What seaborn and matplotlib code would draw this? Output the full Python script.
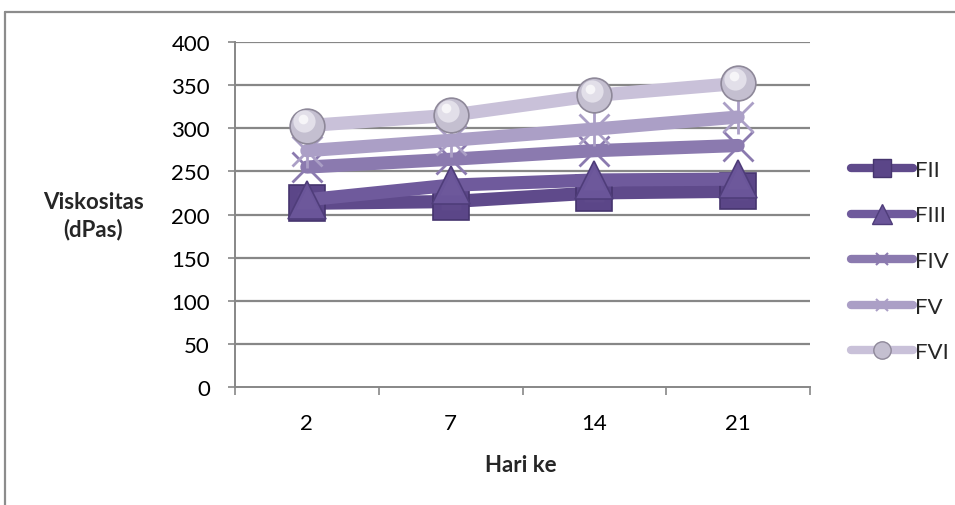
import numpy as np
import pandas as pd
import matplotlib
matplotlib.use("Agg")
import matplotlib.pyplot as plt
from matplotlib.lines import Line2D
import matplotlib.transforms as mtransforms
import seaborn as sns

# Viscosity (dPas) of each formula on each storage day
days = ["2", "7", "14", "21"]
fii = [213, 215, 225, 227]
fiii = [217, 234, 240, 241]
fiv = [255, 264, 274, 280]
fv = [274, 286, 299, 313]
fvi = [303, 315, 338, 352]

series_names = ["FII", "FIII", "FIV", "FV", "FVI"]
series_values = [fii, fiii, fiv, fv, fvi]
y_ticks = [0, 50, 100, 150, 200, 250, 300, 350, 400]

line_colors = ["#5f4a8b", "#6f5a9c", "#8b7aaf", "#ab9fc6", "#c9c1d9"]
marker_faces = ["#5b4688", "#6a5599", "#8b7aaf", "#ab9fc6", "#c4bfd0"]
marker_edges = ["#46356e", "#4f3d7a", "#8b7aaf", "#ab9fc6", "#8e8899"]
# FV uses an x with an extra vertical stroke (drawn as 'x' + '|')
markers = ["s", "^", "x", "x", "o"]
marker_sizes = [26, 28, 22, 22, 25]

FS = 16

sns.set_theme(style="white")
plt.rcParams["font.family"] = ["Lato", "DejaVu Sans"]

fig = plt.figure(figsize=(9.55, 5.06), dpi=100)
ax = fig.add_axes([235 / 955, 1 - 388 / 506, (810 - 235) / 955, (388 - 43) / 506])

pos = np.arange(len(days))
frames = []
for name, vals in zip(series_names, series_values):
    frames.append(pd.DataFrame({"pos": pos, "value": vals, "series": name}))
df = pd.concat(frames, ignore_index=True)

for i, name in enumerate(series_names):
    sub = df[df["series"] == name]
    sns.lineplot(data=sub, x="pos", y="value", ax=ax, color=line_colors[i],
                 linewidth=9.5, solid_capstyle="round", legend=False, zorder=3 + i)
    mk = markers[i]
    filled = mk in ("s", "^", "o")
    ax.plot(sub["pos"], sub["value"], linestyle="none", marker=mk,
            markersize=marker_sizes[i],
            markerfacecolor=marker_faces[i] if filled else "none",
            markeredgecolor=marker_edges[i],
            markeredgewidth=1.2 if filled else 2.0,
            zorder=3 + i + 0.5)
    if name == "FV":
        ax.plot(sub["pos"], sub["value"], linestyle="none", marker="|",
                markersize=marker_sizes[i] * 1.1, markeredgecolor=marker_edges[i],
                markeredgewidth=2.0, zorder=3 + i + 0.5)
    if name == "FVI":
        # soft highlight on the spheres
        hl = mtransforms.offset_copy(ax.transData, fig=fig, x=-2, y=3, units="points")
        ax.plot(sub["pos"], sub["value"], linestyle="none", marker="o", markersize=16,
                markerfacecolor="#e2dfe9", markeredgecolor="none", transform=hl,
                zorder=3 + i + 0.6)
        hl2 = mtransforms.offset_copy(ax.transData, fig=fig, x=-3, y=5, units="points")
        ax.plot(sub["pos"], sub["value"], linestyle="none", marker="o", markersize=7,
                markerfacecolor="#f6f5f8", markeredgecolor="none", transform=hl2,
                zorder=3 + i + 0.7)
    if name in ("FII", "FIII"):
        hl = mtransforms.offset_copy(ax.transData, fig=fig, x=0, y=1, units="points")
        ax.plot(sub["pos"], sub["value"], linestyle="none", marker=mk,
                markersize=marker_sizes[i] * 0.55, markerfacecolor=line_colors[i],
                markeredgecolor="none", alpha=0.8, transform=hl, zorder=3 + i + 0.6)

ax.set_xlim(-0.5, len(days) - 0.5)
ax.set_ylim(y_ticks[0], y_ticks[-1])
ax.set_yticks(y_ticks)
ax.set_xticks(pos)
ax.set_xticklabels(days)
ax.set_xticks(np.arange(len(days) + 1) - 0.5, minor=True)
ax.set_xlabel("")
ax.set_ylabel("")

grid_color = "#878787"
for yv in y_ticks[1:]:
    ax.axhline(yv, color=grid_color, linewidth=1.6, zorder=1)

for side in ["top", "right"]:
    ax.spines[side].set_visible(False)
for side in ["left", "bottom"]:
    ax.spines[side].set_visible(True)
    ax.spines[side].set_color(grid_color)
    ax.spines[side].set_linewidth(1.4)

ax.tick_params(axis="y", which="major", length=5, width=1.2, color=grid_color,
               left=True, pad=13, labelsize=FS, labelcolor="black")
ax.tick_params(axis="x", which="major", length=0, pad=19, labelsize=FS, labelcolor="black")
ax.tick_params(axis="x", which="minor", length=6, width=1.2, color=grid_color, bottom=True)

fig.text(521 / 955, 1 - 466 / 506, "Hari ke", ha="center", va="center",
         fontsize=FS, fontweight="bold")
fig.text(93 / 955, 1 - 216 / 506, "Viskositas\n(dPas)", ha="center", va="center",
         fontsize=FS, fontweight="bold", linespacing=1.3)

# legend
handles = []
legend_sizes = [13.5, 14.5, 9, 9, 12.5]
for i, name in enumerate(series_names):
    mk = markers[i]
    filled = mk in ("s", "^", "o")
    handles.append(Line2D([0], [0], color=line_colors[i], linewidth=6,
                          solid_capstyle="round", marker=mk,
                          markersize=legend_sizes[i],
                          markerfacecolor=marker_faces[i] if filled else "none",
                          markeredgecolor=marker_edges[i],
                          markeredgewidth=1.0 if filled else 1.5))
fig.legend(handles, series_names, loc="center left",
           bbox_to_anchor=(842 / 955, 1 - 262 / 506), frameon=False,
           fontsize=FS, handlelength=2.8, handletextpad=0.1,
           labelspacing=1.15, borderaxespad=0)

# outer chart border
fig.add_artist(Line2D([5 / 955, 1.0], [1 - 13 / 506, 1 - 13 / 506],
                      transform=fig.transFigure, color="#8c8c8c", linewidth=1.6))
fig.add_artist(Line2D([5 / 955, 5 / 955], [1 - 13 / 506, 0.0],
                      transform=fig.transFigure, color="#8c8c8c", linewidth=1.6))

fig.savefig("out.png", dpi=100)
